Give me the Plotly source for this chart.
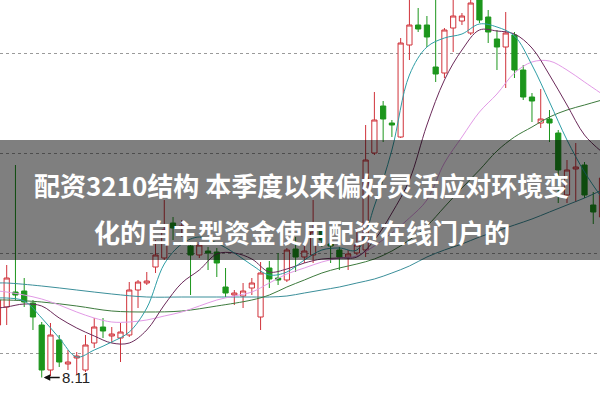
import plotly.graph_objects as go

# candle index -1 .. 68 (first and last are only partly visible)
idx = list(range(-1, 69))
opens = [9.16, 9.52, 9.82, 9.84, 9.60, 9.16, 8.26, 8.86, 8.38, 8.50,
         8.26, 8.80, 9.12, 8.94, 8.90, 8.96, 9.86, 10.00, 10.32, 10.50,
         11.20, 11.10, 10.74, 10.56, 10.64, 10.62, 9.92, 9.76, 9.74, 9.90,
         9.32, 10.30, 10.10, 10.06, 10.68, 10.52, 10.56, 11.06, 10.78, 10.66,
         10.52, 10.60, 10.66, 12.60, 13.54, 13.20, 12.92, 14.76, 15.16, 15.16,
         14.32, 14.20, 15.10, 15.24, 15.00, 15.66, 15.32, 14.88, 14.72, 14.96,
         14.26, 13.72, 13.20, 13.28, 13.00, 11.76, 12.28, 12.36, 11.56, 11.32]
highs = [9.96, 10.36, 12.36, 10.10, 9.66, 9.22, 9.20, 8.96, 8.66, 8.62,
         8.96, 9.30, 9.30, 9.12, 9.20, 10.02, 10.06, 10.22, 10.86, 11.66,
         11.32, 11.26, 10.78, 10.82, 10.72, 10.70, 10.30, 9.86, 10.00, 10.10,
         10.42, 10.44, 10.60, 10.70, 10.92, 10.82, 11.66, 11.10, 10.90, 10.72,
         10.66, 11.10, 13.16, 13.82, 13.64, 13.26, 14.90, 15.70, 15.50, 15.34,
         15.70, 15.10, 15.70, 15.40, 15.70, 15.76, 15.46, 15.06, 15.42, 15.02,
         14.36, 13.80, 13.88, 13.46, 13.06, 12.46, 12.80, 12.42, 11.82, 12.16]
lows = [9.10, 9.16, 9.66, 9.52, 9.06, 8.11, 8.14, 8.32, 8.26, 8.16,
        8.22, 8.70, 8.90, 8.80, 8.42, 8.92, 9.50, 9.96, 10.20, 10.46,
        10.86, 10.92, 9.76, 10.50, 10.26, 10.12, 9.72, 9.56, 9.50, 9.76,
        9.06, 9.90, 9.96, 10.02, 10.22, 10.40, 10.40, 10.72, 10.40, 10.26,
        10.26, 10.56, 10.52, 12.56, 12.82, 12.92, 12.90, 14.46, 15.02, 14.72,
        14.02, 14.10, 14.62, 15.16, 14.96, 15.20, 14.80, 14.26, 13.90, 14.10,
        13.66, 13.22, 13.10, 12.82, 11.60, 11.60, 11.62, 11.70, 11.18, 11.26]
closes = [9.66, 10.10, 9.76, 9.62, 9.32, 8.26, 8.96, 8.42, 8.42, 8.54,
          8.76, 9.12, 9.04, 8.98, 9.02, 9.86, 10.02, 10.04, 10.56, 11.06,
          11.10, 11.14, 10.56, 10.76, 10.60, 10.40, 9.80, 9.80, 9.84, 10.00,
          10.20, 10.08, 10.06, 10.66, 10.52, 10.64, 11.02, 10.86, 10.74, 10.52,
          10.58, 10.76, 12.46, 13.26, 13.28, 13.16, 14.80, 15.16, 15.08, 14.92,
          14.18, 15.06, 15.34, 15.34, 15.60, 15.26, 15.02, 14.72, 15.00, 14.26,
          13.72, 13.64, 13.28, 13.20, 12.26, 12.26, 12.32, 11.76, 11.42, 12.10]

# moving averages read at every second candle
ma_x = [-1] + list(range(0, 69, 2))
ma5 = [9.70, 9.70, 9.64, 9.30, 8.90, 8.52, 8.66, 8.82, 9.02, 9.50, 10.38,
       10.78, 10.92, 10.80, 10.60, 10.36, 10.16, 10.22, 10.46, 10.66, 10.70,
       10.66, 11.54, 12.66, 14.16, 14.72, 14.90, 14.98, 15.18, 15.12, 14.94,
       14.36, 13.62, 12.86, 12.22, 11.70]
ma10 = [9.50, 9.52, 9.58, 9.54, 9.30, 9.10, 8.94, 8.80, 8.80, 9.06, 9.56,
        10.00, 10.26, 10.58, 10.60, 10.48, 10.22, 10.28, 10.40, 10.48, 10.50,
        10.52, 10.86, 11.40, 12.06, 13.16, 14.06, 14.66, 15.06, 15.04, 14.98,
        14.70, 14.16, 13.56, 12.96, 12.62]
ma20 = [9.84, 9.82, 9.76, 9.68, 9.56, 9.42, 9.30, 9.22, 9.22, 9.26, 9.34,
        9.42, 9.54, 9.66, 9.74, 9.82, 10.00, 10.18, 10.30, 10.42, 10.50,
        10.54, 10.74, 11.00, 11.30, 11.66, 12.40, 12.92, 13.42, 13.78, 14.20,
        14.42, 14.44, 14.26, 14.02, 13.78]
ma_x2 = [-1, 0, 4, 8, 12, 16, 20, 24, 28] + list(range(30, 69, 2))
ma60 = [9.66, 9.66, 9.62, 9.54, 9.44, 9.42, 9.44, 9.54, 9.66, 9.76, 9.92,
        10.06, 10.20, 10.30, 10.38, 10.48, 10.64, 10.86, 11.14, 11.52, 11.90,
        12.26, 12.64, 12.92, 13.12, 13.32, 13.46, 13.56, 13.66]
ma120 = [10.00, 10.00, 9.94, 9.86, 9.78, 9.72, 9.72, 9.72, 9.72, 9.72, 9.74,
         9.80, 9.86, 9.92, 10.00, 10.08, 10.20, 10.34, 10.52, 10.66, 10.78,
         10.92, 11.04, 11.16, 11.28, 11.42, 11.56, 11.70, 11.86]

grid_levels = [8.6, 10.6, 12.6, 14.6]
low_label = "8.11"
title_lines = ["配资3210结构 本季度以来偏好灵活应对环境变", "化的自主型资金使用配资在线门户的"]

red = "#d0323a"
green = "#1c961c"

fig = go.Figure()

fig.add_trace(go.Candlestick(
    x=idx, open=opens, high=highs, low=lows, close=closes,
    increasing=dict(line=dict(color=red, width=1), fillcolor="white"),
    decreasing=dict(line=dict(color=green, width=1), fillcolor=green),
    whiskerwidth=0, showlegend=False, hoverinfo="skip",
))

# ---------- moving averages ----------
for xs, ys, col in [
    (ma_x2, ma120, "#3b8f9a"),
    (ma_x2, ma60, "#3d7a3d"),
    (ma_x, ma20, "#e29ae6"),
    (ma_x, ma10, "#6b2a5a"),
    (ma_x, ma5, "#2f9ea6"),
]:
    fig.add_trace(go.Scatter(
        x=xs, y=ys, mode="lines", line=dict(color=col, width=1, shape="spline"),
        showlegend=False, hoverinfo="skip",
    ))

fig.add_annotation(
    x=4, y=lows[5], text=low_label, showarrow=True,
    arrowhead=2, arrowsize=1, arrowwidth=1.3, arrowcolor="#111",
    ax=18, ay=0, xanchor="left", standoff=2,
    font=dict(family="Liberation Sans, Arial", size=15, color="#222"),
)

# grey banner with the headline
fig.add_shape(type="rect", xref="paper", yref="paper", x0=0, x1=1, y0=0.35, y1=0.65,
              fillcolor="rgba(0,0,0,0.5)", line=dict(width=0), layer="above")
for txt, yy in zip(title_lines, [0.54, 0.422]):
    fig.add_annotation(
        x=0.503, y=yy, xref="paper", yref="paper", text="<b>" + txt + "</b>",
        showarrow=False, xanchor="center", yanchor="middle",
        font=dict(family="Noto Sans CJK SC", size=26, color="white"),
    )

fig.update_layout(
    width=600, height=400,
    margin=dict(l=0, r=0, t=0, b=0),
    paper_bgcolor="white", plot_bgcolor="white",
    boxgap=0.15,
    xaxis=dict(range=[-0.765, 67.77], visible=False, rangeslider=dict(visible=False)),
    yaxis=dict(range=[7.66, 15.66], tickvals=grid_levels, showticklabels=False,
               showgrid=True, gridcolor="#9a9a9a", griddash="dot", gridwidth=1.3,
               zeroline=False, showline=False),
)

fig.write_html("out.html", config={"displayModeBar": False},
               post_script="document.body.style.margin='0';")
